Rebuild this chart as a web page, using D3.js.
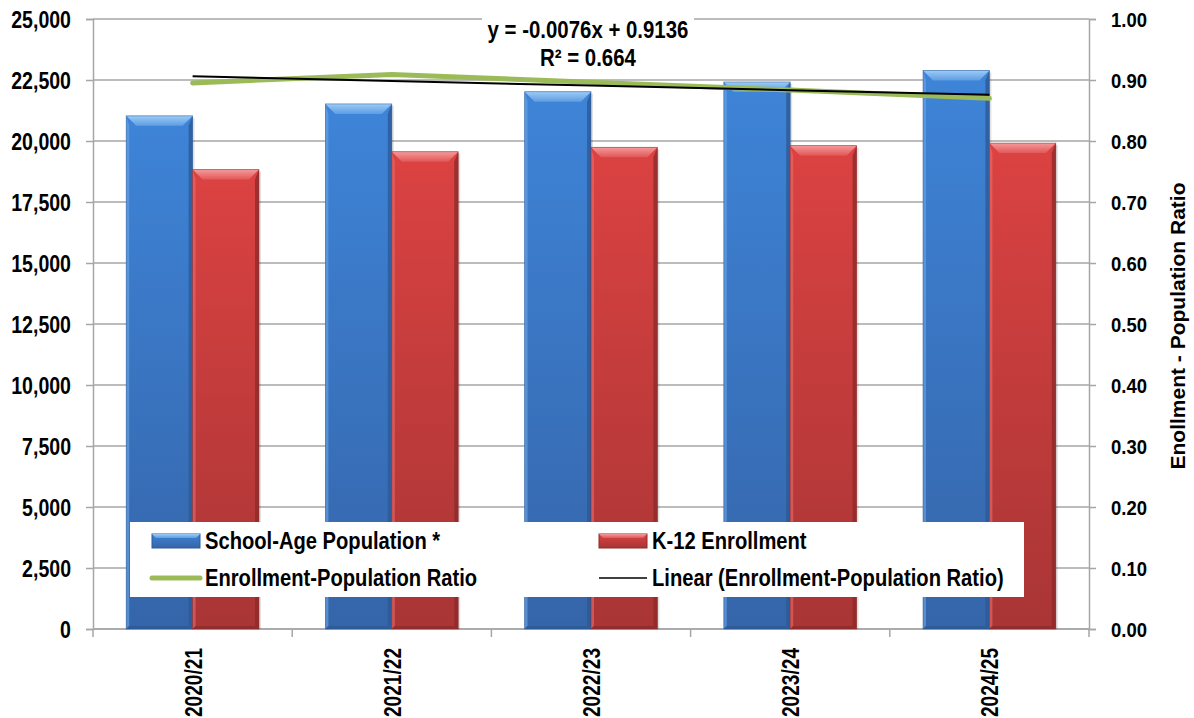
<!DOCTYPE html>
<html>
<head>
<meta charset="utf-8">
<script src="https://cdn.jsdelivr.net/npm/d3@7"></script>
<style>
  body { margin: 0; background: #fff; }
  svg text { font-family: "Liberation Sans", Arial, sans-serif; font-weight: bold; fill: #000; }
</style>
</head>
<body>
<div id="chart"></div>
<script>
// chart values
const categories = ['2020/21', '2021/22', '2022/23', '2023/24', '2024/25'];
const population = [21030, 21520, 22020, 22420, 22890];
const enrollment = [18827, 19561, 19741, 19810, 19913];
const leftTicks = [0, 2500, 5000, 7500, 10000, 12500, 15000, 17500, 20000, 22500, 25000];
const rightTicks = [0, 0.1, 0.2, 0.3, 0.4, 0.5, 0.6, 0.7, 0.8, 0.9, 1.0];

const width = 1194;
const height = 718;
const margin = { top: 19, right: 105, bottom: 89, left: 93 };
const plotW = width - margin.left - margin.right;
const plotH = height - margin.top - margin.bottom;

// ratio = enrollment / population
const ratio = categories.map((c, i) => enrollment[i] / population[i]);

// least squares trend (x = 1..n)
const xs = d3.range(1, ratio.length + 1);
const mx = d3.mean(xs);
const my = d3.mean(ratio);
const slope = d3.sum(xs, (x, i) => (x - mx) * (ratio[i] - my)) / d3.sum(xs, x => (x - mx) * (x - mx));
const intercept = my - slope * mx;
const ssTot = d3.sum(ratio, r => (r - my) * (r - my));
const ssRes = d3.sum(ratio, (r, i) => Math.pow(r - (intercept + slope * xs[i]), 2));
const r2 = 1 - ssRes / ssTot;

// squeeze text horizontally (no narrow font available)
function condense(sel, k) {
  sel.each(function() {
    const len = this.getComputedTextLength();
    d3.select(this).attr('textLength', len * k).attr('lengthAdjust', 'spacingAndGlyphs');
  });
}

const svg = d3.select('#chart')
  .append('svg')
  .attr('width', width)
  .attr('height', height);

const defs = svg.append('defs');

function grad(id, stops) {
  const gr = defs.append('linearGradient')
    .attr('id', id)
    .attr('x1', 0).attr('y1', 0).attr('x2', 0).attr('y2', 1);
  stops.forEach(s => gr.append('stop').attr('offset', s[0]).attr('stop-color', s[1]));
}
grad('blueBody', [[0, '#3e84d8'], [1, '#3565a9']]);
grad('blueTop', [[0, '#9ccbf7'], [1, '#5d9de2']]);
grad('redBody', [[0, '#dc4242'], [1, '#a93535']]);
grad('redTop', [[0, '#f59a9a'], [1, '#e25757']]);

const seriesStyle = {
  pop: { body: 'url(#blueBody)', top: 'url(#blueTop)', edge: '#2d5a96', light: '#6aa6e8' },
  enr: { body: 'url(#redBody)', top: 'url(#redTop)', edge: '#8f2a2a', light: '#ea6d6d' }
};

const g = svg.append('g').attr('transform', `translate(${margin.left},${margin.top})`);

const x0 = d3.scaleBand().domain(categories).range([0, plotW]);
const bw = x0.bandwidth();
const x1 = d3.scaleBand().domain(['pop', 'enr']).range([bw / 6, bw * 5 / 6]);
const yL = d3.scaleLinear().domain([0, 25000]).range([plotH, 0]);
const yR = d3.scaleLinear().domain([0, 1]).range([plotH, 0]);

// gridlines
g.append('g')
  .selectAll('line')
  .data(leftTicks)
  .enter()
  .append('line')
  .attr('x1', 0)
  .attr('x2', plotW)
  .attr('y1', d => yL(d))
  .attr('y2', d => yL(d))
  .attr('stroke', '#a6a6a6')
  .attr('stroke-width', 1.5);

// left axis
const axisL = g.append('g')
  .call(d3.axisLeft(yL).tickValues(leftTicks).tickFormat(d3.format(',')).tickSize(7).tickPadding(15));
axisL.select('.domain').attr('stroke', '#a6a6a6').attr('stroke-width', 1.5);
axisL.selectAll('.tick line').attr('stroke', '#a6a6a6').attr('stroke-width', 1.5);
axisL.selectAll('text').attr('font-size', 23).attr('dy', '0.36em');

// right axis
const axisR = g.append('g')
  .attr('transform', `translate(${plotW},0)`)
  .call(d3.axisRight(yR).tickValues(rightTicks).tickFormat(d3.format('.2f')).tickSize(7).tickPadding(15));
axisR.select('.domain').attr('stroke', '#a6a6a6').attr('stroke-width', 1.5);
axisR.selectAll('.tick line').attr('stroke', '#a6a6a6').attr('stroke-width', 1.5);
axisR.selectAll('text').attr('font-size', 21).attr('dy', '0.36em');

// bottom axis: ticks at category boundaries
const bottom = g.append('g').attr('transform', `translate(0,${plotH})`);
bottom.append('line')
  .attr('x1', 0).attr('x2', plotW)
  .attr('stroke', '#a6a6a6').attr('stroke-width', 1.5);
bottom.selectAll('.btick')
  .data(d3.range(categories.length + 1))
  .enter()
  .append('line')
  .attr('x1', i => i * bw).attr('x2', i => i * bw)
  .attr('y1', 0).attr('y2', 8)
  .attr('stroke', '#a6a6a6').attr('stroke-width', 1.5);
const xLabels = bottom.selectAll('.blabel')
  .data(categories)
  .enter()
  .append('text')
  .attr('font-size', 23)
  .attr('text-anchor', 'end')
  .attr('transform', d => `translate(${x0(d) + bw / 2 + 9},${19}) rotate(-90)`)
  .text(d => d);

// bars with bevel
function drawBar(sel, x, y, w, h, st) {
  const bev = Math.min(10, h / 2);
  sel.append('rect').attr('x', x + 2).attr('y', y + 2).attr('width', w).attr('height', h - 2)
    .attr('fill', '#000').attr('opacity', 0.12);
  sel.append('rect').attr('x', x).attr('y', y).attr('width', w).attr('height', h).attr('fill', st.body);
  sel.append('polygon')
    .attr('points', `${x},${y} ${x + 3},${y + bev} ${x + 3},${y + h - 3} ${x},${y + h}`)
    .attr('fill', st.light).attr('opacity', 0.6);
  sel.append('polygon')
    .attr('points', `${x + w},${y} ${x + w - 4},${y + bev} ${x + w - 4},${y + h - 3} ${x + w},${y + h}`)
    .attr('fill', st.edge).attr('opacity', 0.8);
  sel.append('polygon')
    .attr('points', `${x},${y + h} ${x + 3},${y + h - 3} ${x + w - 4},${y + h - 3} ${x + w},${y + h}`)
    .attr('fill', st.edge).attr('opacity', 0.8);
  sel.append('polygon')
    .attr('points', `${x},${y} ${x + w},${y} ${x + w - bev},${y + bev} ${x + bev},${y + bev}`)
    .attr('fill', st.top);
  sel.append('rect').attr('x', x).attr('y', y).attr('width', w).attr('height', h)
    .attr('fill', 'none').attr('stroke', st.edge).attr('stroke-width', 0.8).attr('opacity', 0.6);
}

const barData = [];
categories.forEach((c, i) => {
  barData.push({ cat: c, key: 'pop', value: population[i] });
  barData.push({ cat: c, key: 'enr', value: enrollment[i] });
});
const bars = g.append('g');
barData.forEach(d => {
  drawBar(bars.append('g'), x0(d.cat) + x1(d.key), yL(d.value), x1.bandwidth(), plotH - yL(d.value), seriesStyle[d.key]);
});

// ratio line and trend
const cx = d => x0(d) + bw / 2;
g.append('path')
  .datum(categories)
  .attr('fill', 'none')
  .attr('stroke', '#9bbb59')
  .attr('stroke-width', 5)
  .attr('stroke-linecap', 'round')
  .attr('stroke-linejoin', 'round')
  .attr('d', d3.line().x(cx).y((d, i) => yR(ratio[i])));
g.append('path')
  .datum(categories)
  .attr('fill', 'none')
  .attr('stroke', '#000')
  .attr('stroke-width', 2)
  .attr('d', d3.line().x(cx).y((d, i) => yR(intercept + slope * xs[i])));

// trend label
const lblX = 588 - margin.left;
g.append('rect')
  .attr('x', lblX - 106).attr('y', -11)
  .attr('width', 212).attr('height', 66)
  .attr('fill', '#fff');
const fmtSign = v => (v < 0 ? '-' : '') + Math.abs(v).toFixed(4);
const eq = g.append('g');
eq.append('text')
  .attr('x', lblX).attr('y', 38 - margin.top)
  .attr('text-anchor', 'middle')
  .attr('font-size', 24)
  .text(`y = ${fmtSign(slope)}x + ${intercept.toFixed(4)}`);
eq.append('text')
  .attr('x', lblX).attr('y', 66 - margin.top)
  .attr('text-anchor', 'middle')
  .attr('font-size', 24)
  .text(`R² = ${r2.toFixed(3)}`);

// right axis title
svg.append('text')
  .attr('transform', `translate(${1185},${326}) rotate(-90)`)
  .attr('text-anchor', 'middle')
  .attr('font-size', 21)
  .text('Enollment - Population Ratio');

// legend
const legend = svg.append('g');
legend.append('rect')
  .attr('x', 130).attr('y', 522)
  .attr('width', 894).attr('height', 75)
  .attr('fill', '#fff');
const legendItems = [
  { label: 'School-Age Population *', type: 'bar', st: seriesStyle.pop, x: 152, y: 541 },
  { label: 'K-12 Enrollment', type: 'bar', st: seriesStyle.enr, x: 599, y: 541 },
  { label: 'Enrollment-Population Ratio', type: 'line', color: '#9bbb59', w: 5, x: 152, y: 578 },
  { label: 'Linear (Enrollment-Population Ratio)', type: 'line', color: '#000', w: 1.5, x: 599, y: 578 }
];
legendItems.forEach(it => {
  const lg = legend.append('g');
  if (it.type === 'bar') {
    const sx = it.x, sy = it.y - 7, sw = 48, sh = 14;
    lg.append('rect').attr('x', sx).attr('y', sy).attr('width', sw).attr('height', sh).attr('fill', it.st.body)
      .attr('stroke', it.st.edge).attr('stroke-width', 1);
    lg.append('polygon')
      .attr('points', `${sx},${sy} ${sx + sw},${sy} ${sx + sw - 4},${sy + 4} ${sx + 4},${sy + 4}`)
      .attr('fill', it.st.top);
  } else {
    lg.append('line')
      .attr('x1', it.x).attr('x2', it.x + 48)
      .attr('y1', it.y).attr('y2', it.y)
      .attr('stroke', it.color).attr('stroke-width', it.w)
      .attr('stroke-linecap', it.w > 2 ? 'round' : 'butt');
  }
  lg.append('text')
    .attr('class', 'ltext')
    .attr('x', it.x + 53).attr('y', it.y + 8)
    .attr('font-size', 24)
    .text(it.label);
});

// narrow look for the bold labels
condense(axisL.selectAll('text'), 0.85);
condense(axisR.selectAll('text'), 0.88);
condense(xLabels, 0.83);
condense(eq.selectAll('text'), 0.85);
condense(legend.selectAll('text'), 0.84);
</script>
</body>
</html>
